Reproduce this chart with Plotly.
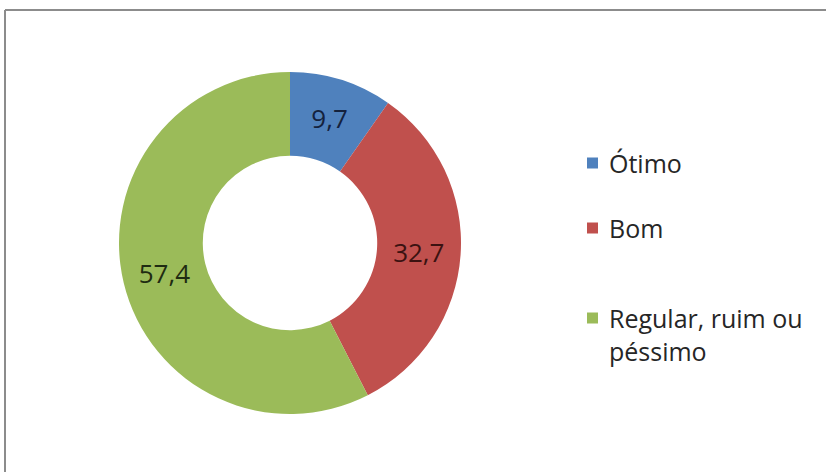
import plotly.graph_objects as go

# Data
categories = ["Ótimo", "Bom", "Regular, ruim ou péssimo"]
legend_labels = ["Ótimo", "Bom", "Regular, ruim ou<br>péssimo"]
values = [9.7, 32.7, 57.4]
colors = ["#4F81BD", "#C0504D", "#9BBB59"]
label_colors = ["#14223d", "#3b1211", "#1f2b12"]

W, H = 826, 472

def px_x(x):
    return x / W

def px_y(y):
    return 1 - y / H

cx, cy, r = 290, 243, 171

text_labels = [f"{v:.1f}".replace(".", ",") for v in values]

fig = go.Figure()
fig.add_trace(go.Pie(
    labels=categories,
    values=values,
    text=text_labels,
    textinfo="text",
    textposition="inside",
    insidetextorientation="horizontal",
    sort=False,
    direction="clockwise",
    rotation=0,
    hole=0.51,
    marker=dict(colors=colors, line=dict(width=0)),
    textfont=dict(family="Open Sans", size=26, color=label_colors),
    domain=dict(x=[px_x(cx - r), px_x(cx + r)], y=[px_y(cy + r), px_y(cy - r)]),
    showlegend=False,
    hoverinfo="label+value",
))

# Manual legend (item spacing as in reference)
legend_y = [163, 228, 334]
marker_y = [163, 228, 318]
shapes = []
annotations = []
for lab, col, ty, my in zip(legend_labels, colors, legend_y, marker_y):
    shapes.append(dict(type="rect", xref="paper", yref="paper",
                       x0=px_x(587), x1=px_x(598), y0=px_y(my + 5.5), y1=px_y(my - 5.5),
                       fillcolor=col, line=dict(width=0)))
    annotations.append(dict(text=lab, xref="paper", yref="paper",
                            x=px_x(607), y=px_y(ty), xanchor="left", yanchor="middle",
                            align="left", showarrow=False,
                            font=dict(family="Open Sans", size=25, color="#262626")))

# Chart frame (top and left edges visible)
shapes.append(dict(type="line", xref="paper", yref="paper",
                   x0=px_x(5), x1=1, y0=px_y(10), y1=px_y(10),
                   line=dict(color="#8c8c8c", width=2)))
shapes.append(dict(type="line", xref="paper", yref="paper",
                   x0=px_x(5), x1=px_x(5), y0=px_y(10), y1=0,
                   line=dict(color="#8c8c8c", width=2)))

fig.update_layout(
    width=W, height=H,
    margin=dict(l=0, r=0, t=0, b=0),
    paper_bgcolor="white",
    plot_bgcolor="white",
    shapes=shapes,
    annotations=annotations,
    showlegend=False,
)

fig.write_html("out.html")
